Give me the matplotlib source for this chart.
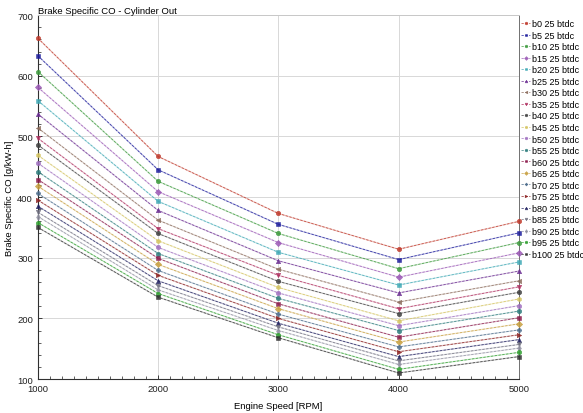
import matplotlib
matplotlib.use("Agg")
import matplotlib.pyplot as plt
from matplotlib.ticker import MultipleLocator

plt.rcParams['font.family'] = ['Liberation Sans', 'DejaVu Sans']

speeds = [1000, 2000, 3000, 4000, 5000]

labels = [f"b{b} 25 btdc" for b in range(0, 101, 5)]

bsco = [
    [662, 467, 373, 314, 360],
    [633, 445, 355, 297, 341],
    [607, 426, 340, 282, 325],
    [581, 409, 325, 268, 308],
    [559, 393, 309, 255, 293],
    [537, 378, 295, 242, 278],
    [514, 362, 281, 227, 262],
    [497, 348, 271, 216, 252],
    [486, 340, 261, 208, 243],
    [469, 328, 251, 196, 232],
    [456, 317, 242, 188, 221],
    [442, 307, 233, 180, 212],
    [429, 299, 224, 169, 201],
    [418, 289, 216, 161, 191],
    [406, 279, 207, 153, 181],
    [395, 271, 200, 145, 173],
    [385, 262, 192, 137, 165],
    [375, 254, 186, 130, 157],
    [368, 247, 180, 124, 151],
    [358, 241, 173, 116, 144],
    [350, 235, 168, 110, 137],
]

colors = [
    "#c0392b", "#1c1c9c", "#3c9a3c", "#9b59b6", "#3fa9b5", "#6a2c91",
    "#8b6b5b", "#b03060", "#404040", "#d4c460", "#a070c0", "#2e7d7d",
    "#8b1a4a", "#c8a040", "#4a6a8a", "#8b2020", "#202060", "#707080",
    "#9090a0", "#30a030", "#303030",
]
markers = ["o", "s", "o", "D", "s", "^", "<", "v", "o", "h", "o", "o",
           "s", "D", "P", ">", "^", "v", "d", "o", "s"]

fig = plt.figure(figsize=(5.83, 4.14), dpi=100)
ax = fig.add_axes([0.065, 0.082, 0.825, 0.879])

for vals, lab, c, m in zip(bsco, labels, colors, markers):
    ax.plot(speeds, vals, color=c, lw=0.9, alpha=0.3, zorder=2)
    ax.plot(speeds, vals, color=c, lw=0.55, alpha=0.85, ls=(0, (3, 2)),
            marker=m, markersize=3.2, markeredgewidth=0.4, label=lab,
            zorder=3, clip_on=False)

ax.set_xlim(1000, 5000)
ax.set_ylim(100, 700)
ax.xaxis.set_major_locator(MultipleLocator(1000))
ax.xaxis.set_minor_locator(MultipleLocator(100))
ax.yaxis.set_major_locator(MultipleLocator(100))
ax.yaxis.set_minor_locator(MultipleLocator(20))
ax.tick_params(which="both", direction="in", labelsize=6.8, colors="#202020")
ax.tick_params(which="major", length=3, width=0.6)
ax.tick_params(which="minor", length=2, width=0.5)
ax.grid(True, which="major", color="#d8d8d8", lw=0.7)
ax.set_axisbelow(True)

for s in ("left", "bottom"):
    ax.spines[s].set_color("#303030")
    ax.spines[s].set_linewidth(0.8)
ax.spines["top"].set_color("#c8c8c8")
ax.spines["top"].set_linewidth(0.7)
ax.spines["right"].set_color("#707070")
ax.spines["right"].set_linewidth(0.7)

ax.set_xlabel("Engine Speed [RPM]", fontsize=6.8, labelpad=6)
ax.set_ylabel("Brake Specific CO [g/kW-h]", fontsize=6.8, labelpad=2.5)
ax.set_title("Brake Specific CO - Cylinder Out", fontsize=6.8, loc="left",
             pad=1.5)

ax.legend(loc="upper left", bbox_to_anchor=(1.0, 0.995), frameon=False,
          fontsize=6.5, handlelength=1.0, handletextpad=0.15,
          labelspacing=0.28, borderpad=0.2, borderaxespad=0.05,
          markerscale=0.6)

fig.savefig("out.png", dpi=100)
